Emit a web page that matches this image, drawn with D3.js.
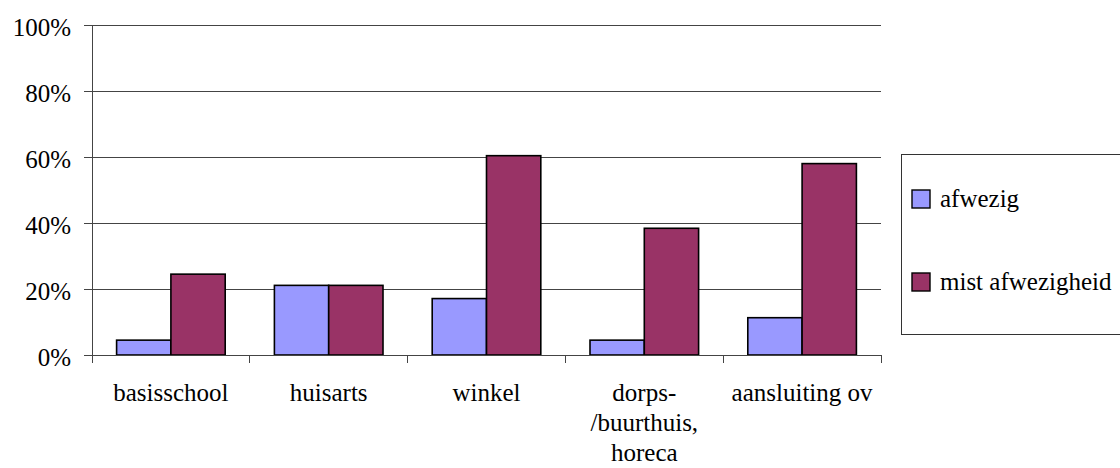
<!DOCTYPE html>
<html>
<head>
<meta charset="utf-8">
<script src="https://cdn.jsdelivr.net/npm/d3@7"></script>
<style>
  body { margin: 0; background: #fff; }
  svg, svg text { font-family: "Liberation Serif", serif; }
</style>
</head>
<body>
<div id="chart"></div>
<script>
const categories = ["basisschool", "huisarts", "winkel", "dorps-/buurthuis, horeca", "aansluiting ov"];
const categoryLines = [["basisschool"], ["huisarts"], ["winkel"], ["dorps-", "/buurthuis,", "horeca"], ["aansluiting ov"]];
const seriesNames = ["afwezig", "mist afwezigheid"];
const afwezig = [0.045, 0.211, 0.171, 0.045, 0.113];
const mistAfwezigheid = [0.245, 0.211, 0.604, 0.384, 0.580];
const yTicks = [0, 0.2, 0.4, 0.6, 0.8, 1];

const colours = { "afwezig": "#9999ff", "mist afwezigheid": "#993366" };

const width = 1120, height = 468;
const plot = { left: 92, right: 881, top: 25, bottom: 355 };

const svg = d3.select("#chart").append("svg")
  .attr("width", width)
  .attr("height", height);

const x = d3.scaleBand()
  .domain(categories)
  .range([plot.left, plot.right])
  .paddingInner(0)
  .paddingOuter(0);

const xSub = d3.scaleBand()
  .domain(seriesNames)
  .range([0, x.bandwidth()])
  .paddingInner(0)
  .paddingOuter(0.453);

const y = d3.scaleLinear()
  .domain([0, 1])
  .range([plot.bottom, plot.top]);

// Gridlines + y axis labels
const yAxis = svg.append("g")
  .attr("transform", `translate(${plot.left},0)`)
  .call(d3.axisLeft(y)
    .tickValues(yTicks)
    .tickSize(8)
    .tickPadding(13)
    .tickFormat(d3.format(".0%")))
  .attr("font-family", null)
  .attr("font-size", null);
yAxis.select(".domain").remove();
yAxis.selectAll(".tick line")
  .attr("x1", -8)
  .attr("x2", plot.right - plot.left)
  .attr("stroke", "#444")
  .attr("shape-rendering", "crispEdges");
yAxis.selectAll(".tick text")
  .attr("font-size", "25px")
  .attr("fill", "#000")
  .attr("dy", "0.4em");

// Vertical axis line
svg.append("line")
  .attr("x1", plot.left).attr("x2", plot.left)
  .attr("y1", plot.top).attr("y2", plot.bottom)
  .attr("stroke", "#444")
  .attr("shape-rendering", "crispEdges");

// X axis: category boundaries as ticks
const boundaries = categories.map(c => x(c)).concat([x(categories[categories.length - 1]) + x.bandwidth()]);
svg.append("g")
  .selectAll("line")
  .data(boundaries)
  .join("line")
  .attr("x1", d => d).attr("x2", d => d)
  .attr("y1", plot.bottom).attr("y2", plot.bottom + 8)
  .attr("stroke", "#444")
  .attr("shape-rendering", "crispEdges");

// Bars
const rows = categories.map((c, i) => ({ cat: c, values: [
  { key: "afwezig", value: afwezig[i] },
  { key: "mist afwezigheid", value: mistAfwezigheid[i] }
]}));

svg.append("g")
  .selectAll("g")
  .data(rows)
  .join("g")
  .attr("transform", d => `translate(${x(d.cat)},0)`)
  .selectAll("rect")
  .data(d => d.values)
  .join("rect")
  .attr("x", d => xSub(d.key))
  .attr("y", d => y(d.value))
  .attr("width", xSub.bandwidth())
  .attr("height", d => y(0) - y(d.value))
  .attr("fill", d => colours[d.key])
  .attr("stroke", "#000")
  .attr("stroke-width", 1.6);

// Baseline on top of bars
svg.append("line")
  .attr("x1", plot.left).attr("x2", plot.right)
  .attr("y1", plot.bottom).attr("y2", plot.bottom)
  .attr("stroke", "#444")
  .attr("shape-rendering", "crispEdges");

// Category labels
const labels = svg.append("g")
  .selectAll("text")
  .data(categories)
  .join("text")
  .attr("x", d => x(d) + x.bandwidth() / 2)
  .attr("y", 401)
  .attr("text-anchor", "middle")
  .attr("font-size", "25px")
  .attr("fill", "#000");
labels.selectAll("tspan")
  .data((d, i) => categoryLines[i])
  .join("tspan")
  .attr("x", function () { return this.parentNode.getAttribute("x"); })
  .attr("dy", (d, i) => i === 0 ? 0 : 30)
  .text(d => d);

// Legend
const legend = svg.append("g");
legend.append("rect")
  .attr("x", 901.5).attr("y", 154.5)
  .attr("width", 240).attr("height", 180)
  .attr("fill", "#fff")
  .attr("stroke", "#333");

const legendY = [190, 273];
seriesNames.forEach((name, i) => {
  legend.append("rect")
    .attr("x", 912).attr("y", legendY[i])
    .attr("width", 18).attr("height", 18)
    .attr("fill", colours[name])
    .attr("stroke", "#000")
    .attr("stroke-width", 1.4);
  legend.append("text")
    .attr("x", 940).attr("y", legendY[i] + 17)
    .attr("font-size", "25px")
    .attr("fill", "#000")
    .text(name);
});
</script>
</body>
</html>
